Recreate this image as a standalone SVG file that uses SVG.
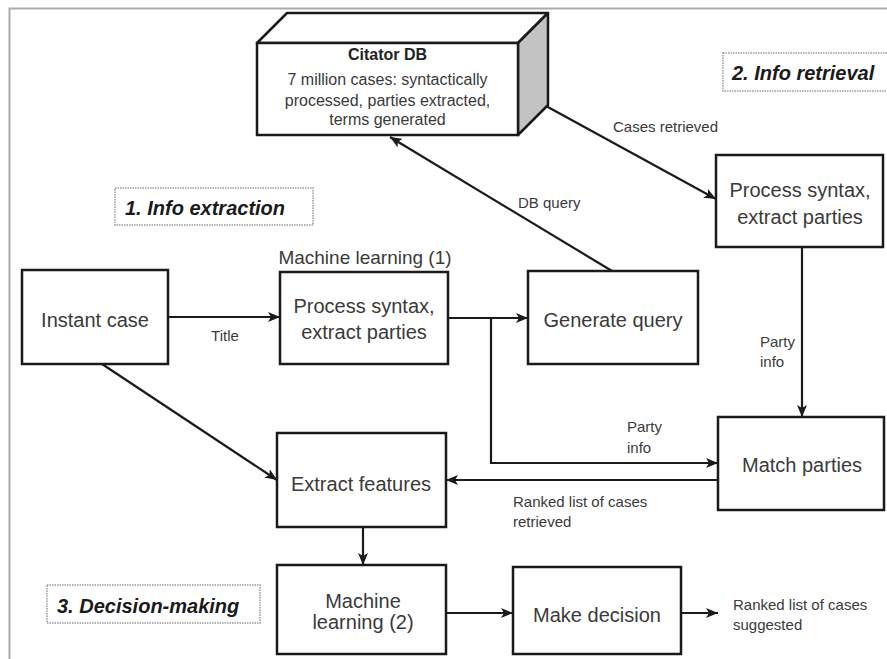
<svg xmlns="http://www.w3.org/2000/svg" width="887" height="659" viewBox="0 0 887 659">
<style>
.box{fill:#fff;stroke:#1a1a1a;stroke-width:2.5}
.t{font-family:"Liberation Sans",Arial,sans-serif;font-size:20px;fill:#3a3a3a;text-anchor:middle}
.lbl{font-family:"Liberation Sans",Arial,sans-serif;font-size:15px;fill:#3a3a3a}
.sec{font-family:"Liberation Sans",Arial,sans-serif;font-size:20px;font-weight:bold;font-style:italic;fill:#1a1a1a}
.dot{fill:#fff;stroke:#9a9a9a;stroke-width:1.5;stroke-dasharray:1.5 1}
.c{fill:none;stroke:#1a1a1a;stroke-width:2.2;marker-end:url(#ah)}
</style>
<defs>
<marker id="ah" markerUnits="userSpaceOnUse" markerWidth="13" markerHeight="10" refX="12" refY="5" orient="auto">
<path d="M0,0 L12,5 L0,10 L3,5 z" fill="#1a1a1a"/>
</marker>
</defs>
<rect width="887" height="659" fill="#fff"/>
<path d="M9.5,659 V8.5 H887" fill="none" stroke="#aaaaaa" stroke-width="2"/>

<g id="sec1"><rect class="dot" x="115" y="188" width="198" height="37"/><text class="sec" x="125" y="215">1. Info extraction</text></g>
<g id="sec2"><rect class="dot" x="723" y="53" width="170" height="38"/><text class="sec" x="732" y="80">2. Info retrieval</text></g>
<g id="sec3"><rect class="dot" x="47" y="585" width="213" height="38"/><text class="sec" x="57" y="613">3. Decision-making</text></g>

<g id="connectors">
<path class="c" d="M168,317 H280"/>
<path class="c" d="M448,318 H528"/>
<path class="c" d="M491,318 V463 H718"/>
<path class="c" d="M102,364 L277,480"/>
<path class="c" d="M612,271 L390,137"/>
<path class="c" d="M546,106 L716,199"/>
<path class="c" d="M802,247 V417"/>
<path class="c" d="M718,480 H446"/>
<path class="c" d="M363,527 V565"/>
<path class="c" d="M446,613 H513"/>
<path class="c" d="M681,613 H718"/>
<text class="lbl" x="225" y="341" text-anchor="middle">Title</text>
<text class="lbl" x="518" y="208">DB query</text>
<text class="lbl" x="613" y="132">Cases retrieved</text>
<text class="lbl" x="760" y="347">Party</text>
<text class="lbl" x="760" y="367">info</text>
<text class="lbl" x="627" y="432">Party</text>
<text class="lbl" x="627" y="453">info</text>
<text class="lbl" x="513" y="507">Ranked list of cases</text>
<text class="lbl" x="513" y="527">retrieved</text>
<text class="lbl" x="733" y="610">Ranked list of cases</text>
<text class="lbl" x="733" y="630">suggested</text>
</g>

<g id="citator">
<path d="M257,43 L287,13 H548 L518,43 Z" fill="#fff" stroke="#1a1a1a" stroke-width="2.5" stroke-linejoin="round"/>
<path d="M518,43 L548,13 V105 L518,135 Z" fill="#c4c4c4" stroke="#1a1a1a" stroke-width="2.5" stroke-linejoin="round"/>
<rect class="box" x="257" y="43" width="261" height="92"/>
<text class="t" x="387.5" y="60" style="font-size:16px;font-weight:bold;fill:#222">Citator DB</text>
<text class="t" x="387.5" y="85" style="font-size:16px">7 million cases: syntactically</text>
<text class="t" x="387.5" y="106" style="font-size:16px">processed, parties extracted,</text>
<text class="t" x="387.5" y="125" style="font-size:16px">terms generated</text>
</g>

<g id="instant">
<rect class="box" x="22" y="270" width="146" height="94"/>
<text class="t" x="95" y="327">Instant case</text>
</g>

<g id="ml1">
<text class="t" x="365" y="264" style="font-size:19px">Machine learning (1)</text>
<rect class="box" x="280" y="272" width="168" height="92"/>
<text class="t" x="364" y="313">Process syntax,</text>
<text class="t" x="364" y="339">extract parties</text>
</g>

<g id="genq">
<rect class="box" x="528" y="271" width="170" height="93"/>
<text class="t" x="613" y="327">Generate query</text>
</g>

<g id="proc2">
<rect class="box" x="716" y="155" width="167" height="92"/>
<text class="t" x="800" y="197">Process syntax,</text>
<text class="t" x="800" y="224">extract parties</text>
</g>

<g id="match">
<rect class="box" x="718" y="417" width="166" height="93"/>
<text class="t" x="802" y="472">Match parties</text>
</g>

<g id="extract">
<rect class="box" x="277" y="433" width="169" height="94"/>
<text class="t" x="361" y="491">Extract features</text>
</g>

<g id="ml2">
<rect class="box" x="277" y="565" width="169" height="89"/>
<text class="t" x="363" y="608">Machine</text>
<text class="t" x="363" y="629">learning (2)</text>
</g>

<g id="decide">
<rect class="box" x="513" y="567" width="168" height="87"/>
<text class="t" x="597" y="622">Make decision</text>
</g>
</svg>
